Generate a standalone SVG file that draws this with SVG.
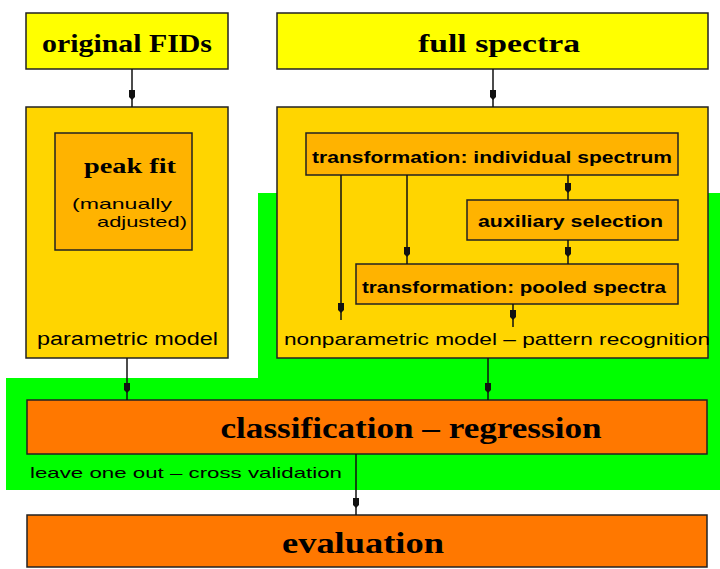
<svg xmlns="http://www.w3.org/2000/svg" width="720" height="569" viewBox="0 0 720 569">
<style>
.box{stroke:#222;stroke-width:1.5}
.y{fill:#ffff00}
.g{fill:#ffd500}
.o{fill:#ffb300}
.r{fill:#ff7800}
.h{font-family:"Liberation Serif",serif;font-weight:bold;fill:#000}
.s{font-family:"Liberation Sans",sans-serif;font-weight:bold;fill:#000}
.n{font-family:"Liberation Sans",sans-serif;fill:#000}
.c{stroke:#111;stroke-width:1.5;fill:none;marker-end:url(#ah)}
</style>
<defs>
<marker id="ah" markerUnits="userSpaceOnUse" viewBox="-20 -5 22 10" refX="0" refY="0" markerWidth="22" markerHeight="10" orient="auto">
<path d="M-17,-3 L-10,-3 L-7,0 L-10,3 L-17,3 Z" fill="#111"/>
</marker>
</defs>
<polygon id="green" points="258,193 720,193 720,490 6,490 6,378 258,378" fill="#00ff00"/>
<g id="original">
<rect class="box y" x="26" y="13" width="202" height="56"/>
<text class="h" x="127" y="52" font-size="26" text-anchor="middle" textLength="170" lengthAdjust="spacingAndGlyphs">original FIDs</text>
</g>
<g id="full">
<rect class="box y" x="277" y="13" width="431" height="56"/>
<text class="h" x="499" y="52" font-size="26" text-anchor="middle" textLength="162" lengthAdjust="spacingAndGlyphs">full spectra</text>
</g>
<g id="parametric">
<rect class="box g" x="26" y="107" width="202" height="251"/>
<text class="n" x="37" y="345" font-size="18" textLength="181" lengthAdjust="spacingAndGlyphs">parametric model</text>
</g>
<g id="peakfit">
<rect class="box o" x="55" y="133" width="137" height="117"/>
<text class="h" x="84" y="173" font-size="22" textLength="92" lengthAdjust="spacingAndGlyphs">peak fit</text>
<text class="n" x="72" y="209" font-size="15" textLength="100" lengthAdjust="spacingAndGlyphs">(manually</text>
<text class="n" x="97" y="227" font-size="15" textLength="90" lengthAdjust="spacingAndGlyphs">adjusted)</text>
</g>
<g id="nonparametric">
<rect class="box g" x="277" y="107" width="431" height="251"/>
<text class="n" x="284" y="345" font-size="17" textLength="426" lengthAdjust="spacingAndGlyphs">nonparametric model – pattern recognition</text>
</g>
<g id="individual">
<rect class="box o" x="306" y="133" width="372" height="42"/>
<text class="s" x="312" y="163" font-size="16" textLength="360" lengthAdjust="spacingAndGlyphs">transformation: individual spectrum</text>
</g>
<g id="auxiliary">
<rect class="box o" x="467" y="200" width="211" height="40"/>
<text class="s" x="478" y="227" font-size="16" textLength="185" lengthAdjust="spacingAndGlyphs">auxiliary selection</text>
</g>
<g id="pooled">
<rect class="box o" x="356" y="264" width="322" height="40"/>
<text class="s" x="362" y="293" font-size="16" textLength="304" lengthAdjust="spacingAndGlyphs">transformation: pooled spectra</text>
</g>
<g id="classification">
<rect class="box r" x="27" y="400" width="680" height="54"/>
<text class="h" x="411" y="438" font-size="29" text-anchor="middle" textLength="381" lengthAdjust="spacingAndGlyphs">classification – regression</text>
<text class="n" x="30" y="478" font-size="15" textLength="312" lengthAdjust="spacingAndGlyphs">leave one out – cross validation</text>
</g>
<g id="evaluation">
<rect class="box r" x="27" y="515" width="680" height="52"/>
<text class="h" x="363" y="553" font-size="29" text-anchor="middle" textLength="162" lengthAdjust="spacingAndGlyphs">evaluation</text>
</g>
<g id="connectors">
<path class="c" d="M132,69 V107"/>
<path class="c" d="M493,69 V107"/>
<path class="c" d="M341,175 V320"/>
<path class="c" d="M407,175 V264"/>
<path class="c" d="M568,175 V200"/>
<path class="c" d="M568,240 V264"/>
<path class="c" d="M513,304 V327"/>
<path class="c" d="M127,358 V400"/>
<path class="c" d="M488,358 V400"/>
<path class="c" d="M356,454 V515"/>
</g>
</svg>
